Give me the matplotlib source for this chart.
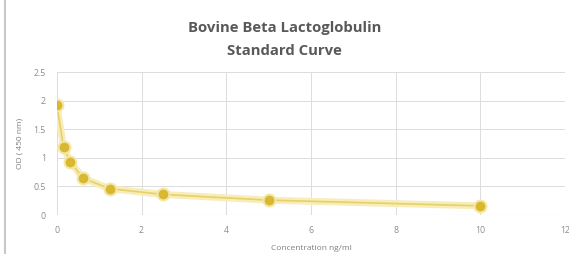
import numpy as np
import matplotlib
matplotlib.use("Agg")
import matplotlib.pyplot as plt
from matplotlib.lines import Line2D

conc = [0, 0.156, 0.3125, 0.625, 1.25, 2.5, 5, 10]
od = [1.92, 1.19, 0.93, 0.64, 0.46, 0.36, 0.26, 0.16]
xticks = [0, 2, 4, 6, 8, 10, 12]
yticks = [0, 0.5, 1, 1.5, 2, 2.5]
ytick_labels = ["0", "0.5", "1", "1.5", "2", "2.5"]

plt.rcParams['font.family'] = ['Open Sans', 'DejaVu Sans']

fig = plt.figure(figsize=(5.69, 2.54), dpi=100)
ax = fig.add_axes([0.100, 0.1535, 0.893, 0.563])

# halo + line
ax.plot(conc, od, color="#F7EDB8", linewidth=5, solid_capstyle='round', zorder=2)
ax.plot(conc, od, color="#E8D068", linewidth=1.2, zorder=3)
ax.plot(conc, od, linestyle='none', marker='o', markersize=10, markerfacecolor="#F4E6A6",
        markeredgewidth=0, zorder=4)
ax.plot(conc, od, linestyle='none', marker='o', markersize=7, markerfacecolor="#D8B830",
        markeredgewidth=0, zorder=5)

ax.set_xlim(0, 12)
ax.set_ylim(0, 2.5)
ax.set_xticks(xticks)
ax.set_yticks(yticks)
ax.set_yticklabels(ytick_labels)
ax.grid(True, color="#DCDCDC", linewidth=0.7)
ax.set_axisbelow(True)
for s in ax.spines.values():
    s.set_visible(False)
ax.axhline(0, color="#D0D0D0", linewidth=0.8, zorder=1)
ax.tick_params(length=0, labelsize=6.3, labelcolor="#8C8C8C", pad=8)

ax.set_xlabel("Concentration ng/ml", fontsize=6, color="#7F7F7F", labelpad=7)
ax.set_ylabel("OD ( 450 nm)", fontsize=6, color="#7F7F7F", labelpad=7)

fig.text(0.5, 0.89, "Bovine Beta Lactoglobulin", ha='center', va='center',
         fontsize=10.7, fontweight='bold', color="#595959")
fig.text(0.5, 0.80, "Standard Curve", ha='center', va='center',
         fontsize=10.7, fontweight='bold', color="#595959")

fig.add_artist(Line2D([4.5 / 569, 4.5 / 569], [0, 1], transform=fig.transFigure,
                      color="#C8C8C8", linewidth=1.5))

fig.savefig("out.png", dpi=100)
